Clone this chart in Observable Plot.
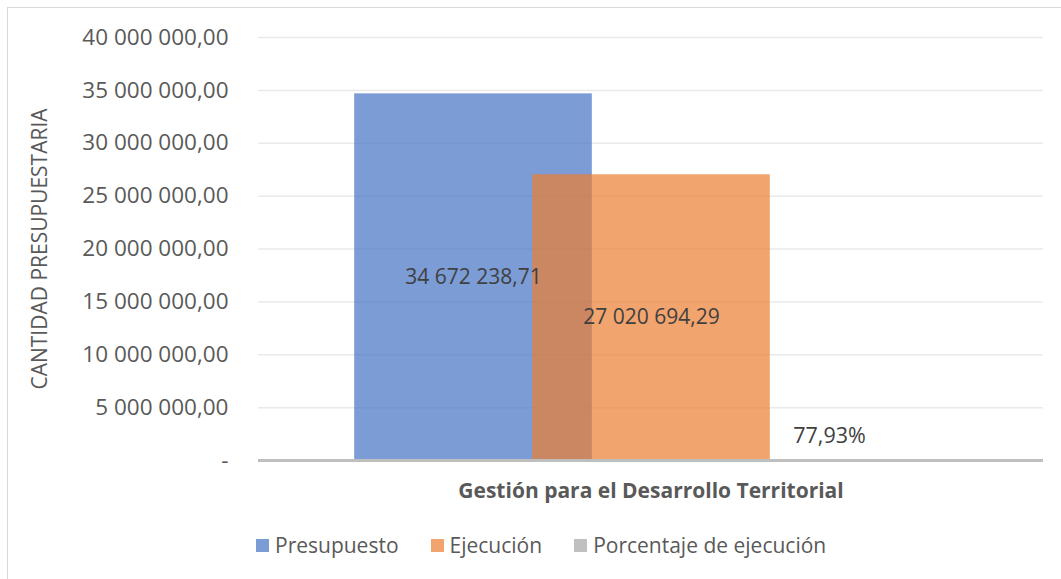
<!DOCTYPE html>
<html><head><meta charset="utf-8">
<script src="https://cdn.jsdelivr.net/npm/d3@7"></script>
<script src="https://cdn.jsdelivr.net/npm/@observablehq/plot@0.6"></script>
<style>
body{margin:0;background:#fff;font-family:"Open Sans",sans-serif;}
#wrap{position:relative;width:1061px;height:579px;overflow:hidden;background:#fff;}
#frame{position:absolute;left:7px;top:7px;width:1080px;height:600px;border:1.5px solid #d9d9d9;box-sizing:border-box;}
#chart{position:absolute;left:0;top:0;}
#legend{position:absolute;left:256px;top:530px;display:flex;gap:32px;font-size:21px;color:#595959;line-height:30px;white-space:nowrap;}
#legend .item{display:flex;align-items:center;}
#legend .sw{width:13px;height:13px;margin-right:6px;}
</style>
</head><body>
<div id="wrap"><div id="frame"></div><div id="chart"></div><div id="legend"></div></div>
<script>
const category = "Gestión para el Desarrollo Territorial";
const series = ["Presupuesto", "Ejecución", "Porcentaje de ejecución"];
const values = [34672238.71, 27020694.29, 0.7793];
const colors = ["#4472C4", "#ED7D31", "#A5A5A5"];
const yTicks = [0, 5000000, 10000000, 15000000, 20000000, 25000000, 30000000, 35000000, 40000000];
const yTitle = "CANTIDAD PRESUPUESTARIA";

const loc = d3.formatLocale({decimal: ",", thousands: " ", grouping: [3], currency: ["", ""]});
const fmtNum = loc.format(",.2f");
const fmtTick = v => v === 0 ? "-" : fmtNum(v);
const fmtPct = v => loc.format(".2f")(v * 100) + "%";

const data = series.map((s, i) => ({series: s, value: values[i], pct: i === 2}));

const overlap = 0.25;
const W = 1061, H = 515;
const mL = 258, mR = 18, mT = 37, mB = 55;
const step = (W - mL - mR) / (3 + 2 * 0.693);
const inset = -(step / (1 - overlap) - step) / 2;

const chart = Plot.plot({
  width: W, height: H,
  marginLeft: mL, marginRight: mR, marginTop: mT, marginBottom: mB,
  style: {fontFamily: "'Open Sans', sans-serif", fontSize: "22px", color: "#595959", background: "transparent"},
  x: {domain: series, axis: null, paddingInner: 0, paddingOuter: 0.693},
  y: {domain: [0, 40000000], axis: null},
  color: {domain: series, range: colors},
  marks: [
    Plot.gridY(yTicks, {stroke: "#d9d9d9", strokeOpacity: 0.55, strokeWidth: 1.5}),
    Plot.axisY(yTicks, {tickSize: 0, tickPadding: 30, tickFormat: fmtTick, label: null, fontSize: 22.5}),
    Plot.barY(data, {x: "series", y: "value", fill: "series", fillOpacity: 0.7, insetLeft: inset, insetRight: inset}),
    Plot.ruleY([0], {stroke: "#bfbfbf", strokeWidth: 3}),
    Plot.text(data.filter(d => !d.pct), {x: "series", y: d => d.value / 2, text: d => fmtNum(d.value), fontSize: 21, fill: "#404040"}),
    Plot.text(data.filter(d => d.pct), {x: "series", y: d => d.value / 2, dy: -24, text: d => fmtPct(d.value), fontSize: 21.5, fill: "#404040"}),
    Plot.text([yTitle], {frameAnchor: "left", textAnchor: "middle", rotate: -90, dx: -218, fontSize: 21, fill: "#595959"}),
    Plot.text([category], {frameAnchor: "bottom", textAnchor: "middle", lineAnchor: "middle", dy: 31, fontSize: 21, fontWeight: "bold", fill: "#595959"})
  ]
});
document.getElementById("chart").appendChild(chart);

const legend = d3.select("#legend");
series.forEach((s, i) => {
  const it = legend.append("div").attr("class", "item");
  it.append("div").attr("class", "sw").style("background", colors[i]).style("opacity", 0.7);
  it.append("span").text(s);
});
</script>
</body></html>
